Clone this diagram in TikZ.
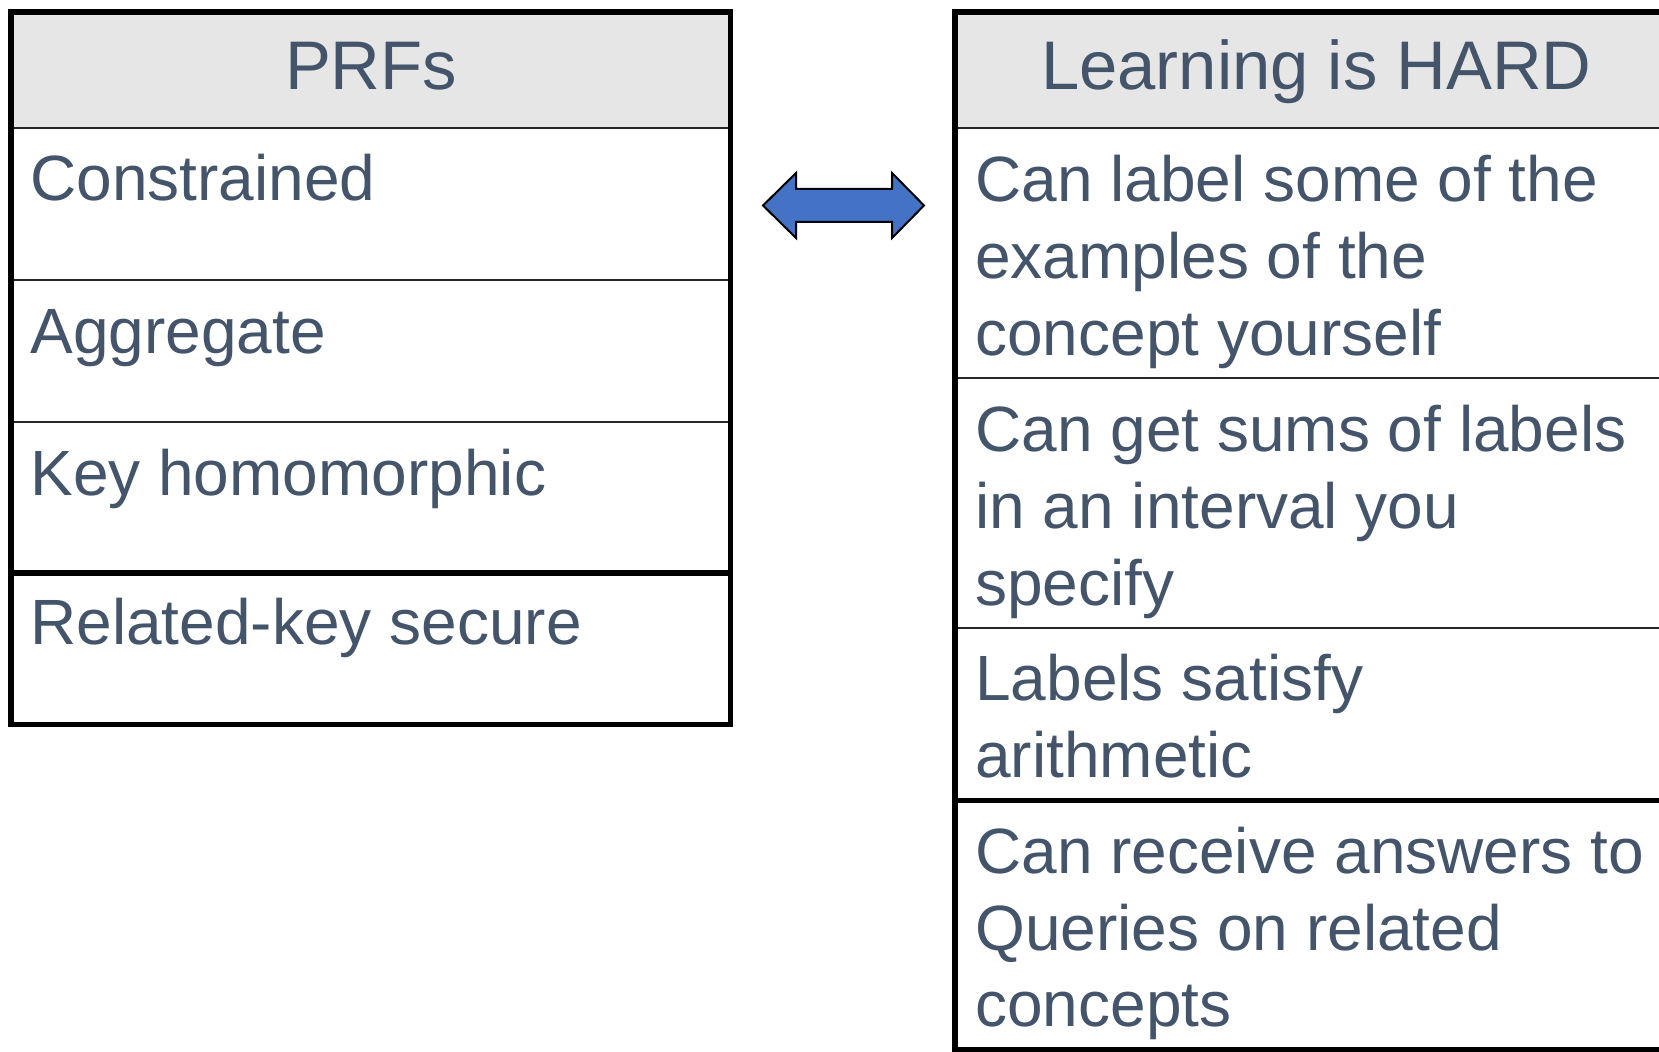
\documentclass[tikz,border=0pt]{standalone}
\usepackage{fontspec}
\setmainfont{Liberation Sans}
\definecolor{txt}{HTML}{44546A}
\definecolor{hdr}{HTML}{E6E6E6}
\definecolor{arrowblue}{HTML}{4472C4}
\begin{document}
\begin{tikzpicture}[x=0.5pt,y=-0.5pt,
  cell/.style={anchor=base west, inner sep=0pt, text=txt, align=flush left,
               text width=345pt, font=\fontsize{32}{38.35}\selectfont},
  head/.style={anchor=base, inner sep=0pt, text=txt,
               font=\fontsize{34.4}{40}\selectfont},
  rule/.style={line width=1pt, draw=black!85},
  heavyrule/.style={line width=2.75pt, draw=black, line cap=rect},
]
\useasboundingbox (0,0) rectangle (1659,1052);

% --- left table: PRFs ---
\fill[hdr] (11,12) rectangle (730.5,128);
\draw[rule] (11,128) -- (730.5,128);
\draw[rule] (11,280) -- (730.5,280);
\draw[rule] (11,422) -- (730.5,422);
\draw[heavyrule] (11,573) -- (730.5,573);
\draw[heavyrule] (11,12) rectangle (730.5,724.5);

\node[head] (prf) at (371,89.3) {PRFs};
\node[cell] (l1) at (30,201) {Constrained};
\node[cell] (l2) at (30,353.3) {Aggregate};
\node[cell] (l3) at (30,495.7) {Key homomorphic};
\node[cell] (l4) at (30,645) {Related-key secure};

% --- right table: Learning is HARD ---
\fill[hdr] (955,12) rectangle (1700,128);
\draw[rule] (955,128) -- (1700,128);
\draw[rule] (955,378) -- (1700,378);
\draw[rule] (955,628) -- (1700,628);
\draw[heavyrule] (955,800.5) -- (1700,800.5);
\draw[heavyrule] (1700,12) -- (955,12) -- (955,1049.5) -- (1700,1049.5);

\node[head] (lrn) at (1316.5,89.3) {Learning is HARD};
\node[cell] (r1) at (975,201.7) {Can label some of the\\examples of the\\concept yourself};
\node[cell] (r2) at (975,451.7) {Can get sums of labels\\in an interval you\\specify};
\node[cell] (r3) at (975,701) {Labels satisfy\\arithmetic};
\node[cell] (r4) at (975,873.3) {Can receive answers to\\Queries on related\\concepts};

% --- double-headed block arrow between the tables ---
\draw[fill=arrowblue, line width=1pt, line join=miter]
  (763,205.5) -- (796,173) -- (796,189) -- (892,189) -- (892,173)
  -- (924,205.5) -- (892,238) -- (892,222) -- (796,222) -- (796,238) -- cycle;
\end{tikzpicture}
\end{document}
